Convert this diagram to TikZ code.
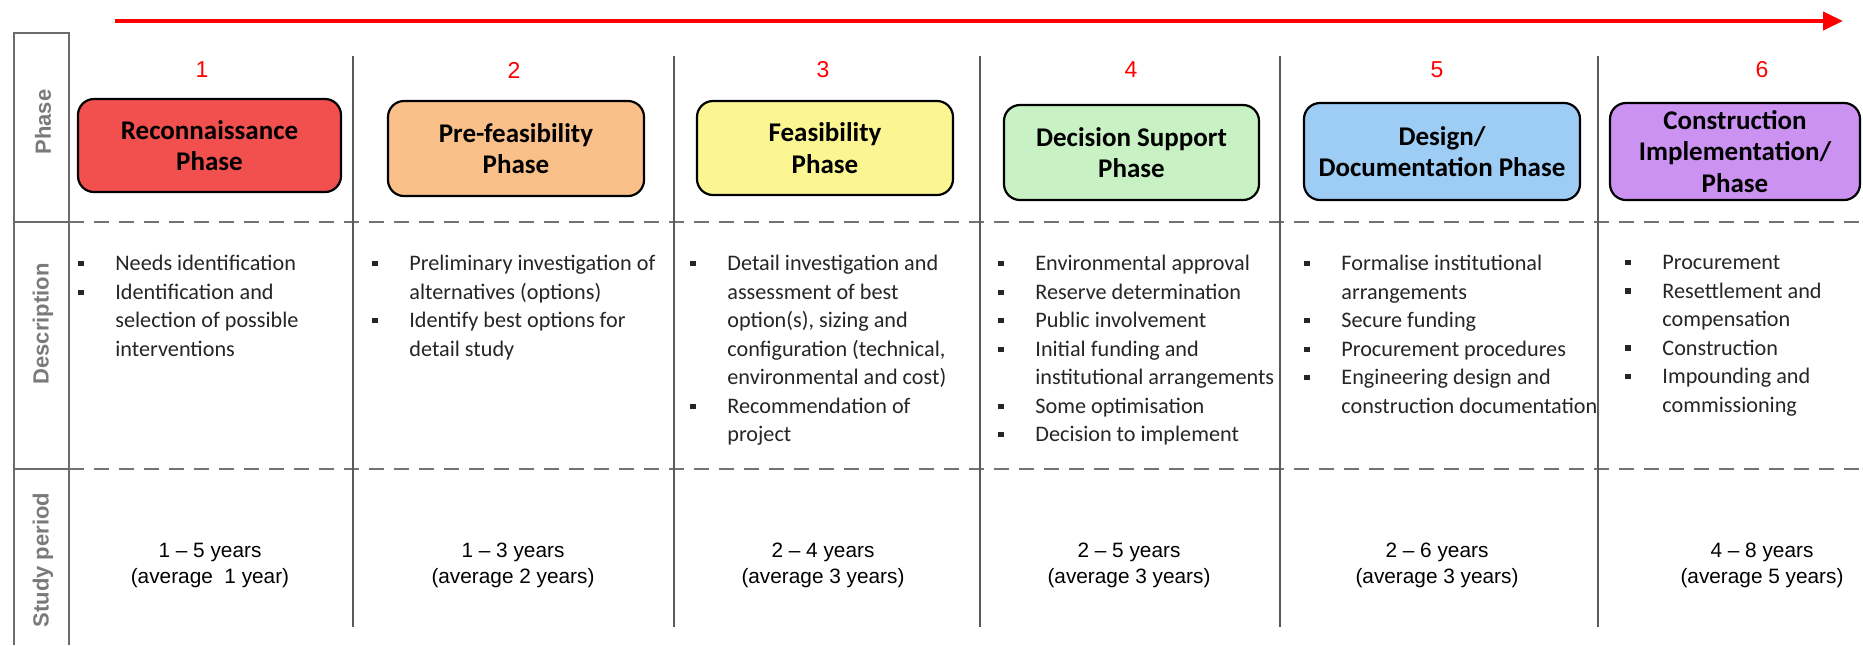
\documentclass[tikz,border=0pt]{standalone}
\usepackage{fontspec}
\setmainfont{Carlito}
\newfontfamily\arialfont{Liberation Sans}
\usetikzlibrary{arrows.meta}
\definecolor{reconfill}{HTML}{F2504F}
\definecolor{prefeasfill}{HTML}{F9C089}
\definecolor{feasfill}{HTML}{FBF692}
\definecolor{decisionfill}{HTML}{C8F2C4}
\definecolor{designfill}{HTML}{9DCCF5}
\definecolor{constrfill}{HTML}{CC92F2}
\definecolor{gridgray}{HTML}{5A5A5A}
\definecolor{labelgray}{HTML}{7A7A7A}
% bullet and empty bullet slot for the description lists
\newcommand{\bul}{\makebox[18.5pt][l]{\raisebox{2.3pt}{\rule{2.6pt}{2.6pt}}}}
\newcommand{\nob}{\hspace*{18.5pt}}
\tikzset{
  >={Triangle[length=10pt,width=9pt]},
  timeline/.style={draw=red, line width=2pt, ->},
  phasebox/.style={
    rectangle,
    rounded corners=8pt,
    draw=black, line width=1.1pt,
    align=center,
    inner sep=0pt,
    font=\fontsize{13.5}{15.8}\selectfont\bfseries},
  phasenum/.style={text=red, font=\arialfont\fontsize{11.5}{13}\selectfont},
  rowlabel/.style={rotate=90, text=labelgray,
    font=\arialfont\bfseries\fontsize{11}{13}\selectfont},
  desc/.style={anchor=north west, inner sep=0pt, align=left, text=black!85,
    font=\fontsize{11.1}{14.25}\selectfont},
  period/.style={align=center, inner sep=0pt, text=black,
    font=\arialfont\fontsize{10.4}{13}\selectfont},
  sep/.style={draw=gridgray, line width=1pt},
  rowsep/.style={draw=gridgray!85, line width=1pt, dash pattern=on 7.5pt off 5pt},
}
\begin{document}
\begin{tikzpicture}[x=0.5pt, y=-0.5pt]
  \useasboundingbox (0,0) rectangle (1863,645);
  \fill[white] (0,0) rectangle (1863,645);
  % time arrow on top
  \coordinate (tl-start) at (115,21);
  \coordinate (tl-end) at (1843,21);
  \draw[timeline] (tl-start) -- (tl-end);
  % row label column
  \draw[draw=gridgray!90, line width=1.2pt] (14,645) -- (14,33) -- (69,33) -- (69,645);
  \draw[draw=gridgray!90, line width=1.2pt] (14,222) -- (69,222);
  \draw[draw=gridgray!90, line width=1.2pt] (14,469) -- (69,469);
  \node[rowlabel] (lab-phase) at (43,122) {Phase};
  \node[rowlabel] (lab-desc) at (43,324) {Description};
  \node[rowlabel] (lab-period) at (43,560) {Study period};
  % dashed row separators
  \draw[rowsep] (69,222) -- (1863,222);
  \draw[rowsep] (69,469) -- (1863,469);
  % phase numbers
  \node[phasenum] (n1) at (202,70) {1};
  \node[phasenum] (n2) at (514,70) {2};
  \node[phasenum] (n3) at (823,70) {3};
  \node[phasenum] (n4) at (1131,70) {4};
  \node[phasenum] (n5) at (1437,70) {5};
  \node[phasenum] (n6) at (1762,70) {6};
  % phase boxes
  \node[phasebox, fill=reconfill, minimum width=131.5pt, minimum height=46.5pt]
    (ph1) at (209.5,145.5) {Reconnaissance\\Phase};
  \node[phasebox, fill=prefeasfill, minimum width=128pt, minimum height=47.5pt]
    (ph2) at (516,148.5) {Pre-feasibility\\Phase};
  \node[phasebox, fill=feasfill, minimum width=128pt, minimum height=47pt]
    (ph3) at (825,148) {Feasibility\\Phase};
  \node[phasebox, fill=decisionfill, minimum width=127.5pt, minimum height=47.5pt]
    (ph4) at (1131.5,152.5) {Decision Support\\Phase};
  \node[phasebox, fill=designfill, minimum width=138pt, minimum height=48.5pt]
    (ph5) at (1442,151.5) {Design/\\Documentation Phase};
  \node[phasebox, fill=constrfill, minimum width=125pt, minimum height=48.5pt]
    (ph6) at (1735,151.5) {Construction\\Implementation/\\Phase};
  %% descriptions
  \node[desc] (d1) at (78,255) {\bul Needs identification\\
    \bul Identification and\\ \nob selection of possible\\ \nob interventions};
  \node[desc] (d2) at (372,255) {\bul Preliminary investigation of\\
    \nob alternatives (options)\\ \bul Identify best options for\\ \nob detail study};
  \node[desc] (d3) at (690,255) {\bul Detail investigation and\\
    \nob assessment of best\\ \nob option(s), sizing and\\
    \nob configuration (technical,\\ \nob environmental and cost)\\
    \bul Recommendation of\\ \nob project};
  \node[desc] (d4) at (998,255) {\bul Environmental approval\\
    \bul Reserve determination\\ \bul Public involvement\\
    \bul Initial funding and\\ \nob institutional arrangements\\
    \bul Some optimisation\\ \bul Decision to implement};
  \node[desc] (d5) at (1304,255) {\bul Formalise institutional\\
    \nob arrangements\\ \bul Secure funding\\ \bul Procurement procedures\\
    \bul Engineering design and\\ \nob construction documentation};
  \node[desc] (d6) at (1625,255) {\bul Procurement\\
    \bul Resettlement and\\ \nob compensation\\ \bul Construction\\
    \bul Impounding and\\ \nob commissioning};
  %% study periods
  \node[period] (p1) at (210,565) {1 \textendash{} 5 years\\(average~~1 year)};
  \node[period] (p2) at (513,565) {1 \textendash{} 3 years\\(average 2 years)};
  \node[period] (p3) at (823,565) {2 \textendash{} 4 years\\(average 3 years)};
  \node[period] (p4) at (1129,565) {2 \textendash{} 5 years\\(average 3 years)};
  \node[period] (p5) at (1437,565) {2 \textendash{} 6 years\\(average 3 years)};
  \node[period] (p6) at (1762,565) {4 \textendash{} 8 years\\(average 5 years)};
  % column separators, drawn last
  \draw[sep] (353,56) -- (353,627);
  \draw[sep] (674,56) -- (674,627);
  \draw[sep] (980,56) -- (980,627);
  \draw[sep] (1280,56) -- (1280,627);
  \draw[sep] (1598,56) -- (1598,627);
\end{tikzpicture}
\end{document}
